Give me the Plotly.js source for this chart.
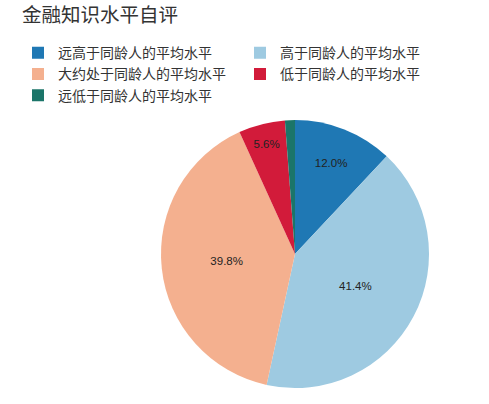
<!DOCTYPE html>
<html><head><meta charset="utf-8">
<script src="https://cdn.plot.ly/plotly-3.0.1.min.js"></script>
<style>body{margin:0;background:#fff}#c{width:489px;height:404px}</style>
</head><body><div id="c"></div>
<script>
var categories = ['远高于同龄人的平均水平','高于同龄人的平均水平','大约处于同龄人的平均水平','低于同龄人的平均水平','远低于同龄人的平均水平'];
var values = [12.0, 41.4, 39.8, 5.6, 1.2];
var colors = ['#1f78b4','#9ecae1','#f4b08f','#d21b3a','#1b7569'];
var font = '"Noto Sans CJK SC", "Noto Sans", sans-serif';
Plotly.newPlot('c', [{
  type: 'pie',
  labels: categories,
  values: values,
  sort: false,
  direction: 'clockwise',
  rotation: 0,
  domain: {x: [161/489, 429/489], y: [16/404, 284/404]},
  marker: {colors: colors, line: {color: '#ffffff', width: 0}},
  textinfo: 'percent',
  texttemplate: '%{percent:.1%}',
  textposition: ['inside','inside','inside','inside','none'],
  insidetextorientation: 'horizontal',
  insidetextfont: {family: 'Arial, "Liberation Sans", sans-serif', size: 11.5, color: '#222'},
  hoverinfo: 'label+percent'
}], {
  width: 489, height: 404,
  margin: {l: 0, r: 0, t: 0, b: 0},
  paper_bgcolor: '#fff',
  title: {text: '金融知识水平自评', font: {family: font, size: 19.5, color: '#333'},
    xref: 'container', x: 0.045, xanchor: 'left', yref: 'container', y: 0.962, yanchor: 'middle'},
  showlegend: true,
  legend: {orientation: 'h', x: 18/489, xanchor: 'left', y: 0.908, yanchor: 'top',
    entrywidth: 177, entrywidthmode: 'pixels', traceorder: 'normal',
    font: {family: font, size: 14, color: '#333'}}
}, {displayModeBar: false});
</script></body></html>
